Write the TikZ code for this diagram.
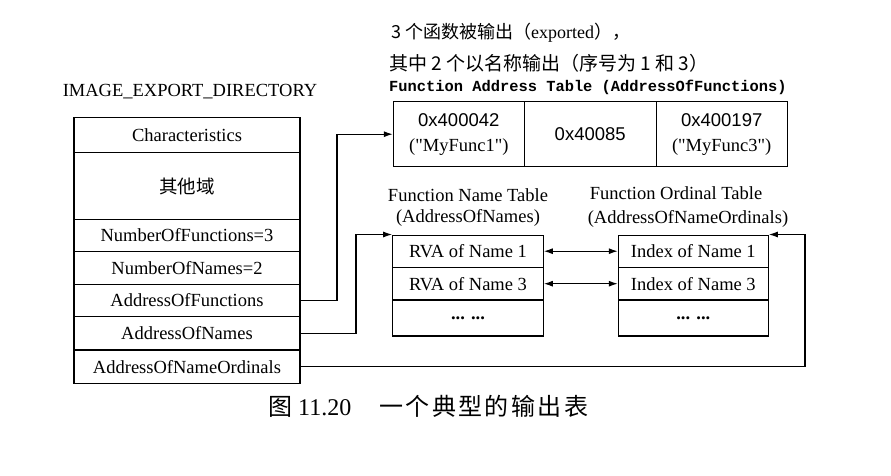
\documentclass[tikz,border=0pt]{standalone}
\usepackage{fontspec}
\setmainfont{Liberation Serif}
\setmonofont{Liberation Mono}
\newfontfamily\cjk{Noto Sans CJK SC}
\newfontfamily\cjksp[LetterSpace=10]{Noto Sans CJK SC}
\newfontfamily\hexfont{Liberation Sans}
\usetikzlibrary{arrows.meta}
\begin{document}
\begin{tikzpicture}[x=1pt,y=-1pt]
\tikzset{
  cell/.style={draw, line width=1.1pt, inner sep=0pt, align=center, font=\fontsize{18.5}{25}\selectfont},
  lbl/.style={inner sep=0pt, align=center, font=\fontsize{18.5}{23}\selectfont},
  conn/.style={line width=1.1pt},
  tipend/.style={-{Latex[length=9pt,width=6pt]}},
  tipboth/.style={{Latex[length=9pt,width=6pt]}-{Latex[length=9pt,width=6pt]}},
}
\useasboundingbox (0,0) rectangle (891,475);
\fill[white] (0,0) rectangle (891,475);

% IMAGE_EXPORT_DIRECTORY
\node[lbl] (title) at (190,92) {IMAGE\_EXPORT\_DIRECTORY};
\node[cell, minimum width=226pt, minimum height=35pt] (r1) at (187,135.2) {Characteristics};
\node[cell, minimum width=226pt, minimum height=66.6pt] (r2) at (187,186) {\cjk 其他域};
\node[cell, minimum width=226pt, minimum height=32.4pt] (r3) at (187,235.5) {NumberOfFunctions=3};
\node[cell, minimum width=226pt, minimum height=32.6pt] (r4) at (187,268) {NumberOfNames=2};
\node[cell, minimum width=226pt, minimum height=32.4pt] (r5) at (187,300.5) {AddressOfFunctions};
\node[cell, minimum width=226pt, minimum height=33.3pt] (r6) at (187,333.3) {AddressOfNames};
\node[cell, minimum width=226pt, minimum height=33.3pt] (r7) at (187,366.7) {AddressOfNameOrdinals};

% top texts
\node[lbl, anchor=west, font=\fontsize{18}{22}\selectfont] (t1) at (391,33) {{\cjk 3 个函数被输出（}exported{\cjk ），}};
\node[lbl, anchor=west, font=\fontsize{19}{22}\selectfont] (t2) at (389,63) {\cjk 其中 2 个以名称输出（序号为 1 和 3）};
\node[lbl, anchor=west, font=\fontsize{15.4}{18}\selectfont\ttfamily\bfseries] (t3) at (389,87) {Function Address Table (AddressOfFunctions)};

% Function address table
\node[cell, minimum width=131pt, minimum height=65pt] (f1) at (458.8,134.2) {{\hexfont 0x400042}\\(\textquotedbl MyFunc1\textquotedbl)};
\node[cell, minimum width=131.7pt, minimum height=65pt] (f2) at (590.2,134.2) {\hexfont 0x40085};
\node[cell, minimum width=131.3pt, minimum height=65pt] (f3) at (721.7,134.2) {{\hexfont 0x400197}\\(\textquotedbl MyFunc3\textquotedbl)};

% Name table
\node[lbl] (nt1) at (468,195) {Function Name Table};
\node[lbl] (nt2) at (468,218) {(AddressOfNames)};
\node[cell, minimum width=150.6pt, minimum height=32.3pt] (n1) at (468,251.2) {RVA of Name 1};
\node[cell, minimum width=150.6pt, minimum height=32.7pt] (n2) at (468,283.7) {RVA of Name 3};
\node[cell, minimum width=150.6pt, minimum height=36pt] (n3) at (468,318) {\textbf{... ...}};

% Ordinal table
\node[lbl] (ot1) at (676,193) {Function Ordinal Table};
\node[lbl] (ot2) at (688,219) {(AddressOfNameOrdinals)};
\node[cell, minimum width=150pt, minimum height=32.3pt] (o1) at (693.3,251.2) {Index of Name 1};
\node[cell, minimum width=150pt, minimum height=32.7pt] (o2) at (693.3,283.7) {Index of Name 3};
\node[cell, minimum width=150pt, minimum height=36pt] (o3) at (693.3,318) {\textbf{... ...}};

% connectors
\coordinate (k1) at (337,0);
\coordinate (k2) at (356,0);
\coordinate (k3) at (805,0);
\draw[conn,tipend] (r5.east) -- (r5.east -| k1) -- (k1 |- f1.west) -- (f1.west);
\draw[conn,tipend] (r6.east) -- (r6.east -| k2) -- (k2 |- n1.north west) -- (n1.north west);
\draw[conn,tipend] (r7.east) -- (r7.east -| k3) -- (k3 |- o1.north east) -- (o1.north east);
\draw[conn,tipboth] (n1.east) -- (o1.west);
\draw[conn,tipboth] (n2.east) -- (o2.west);

% caption
\node[inner sep=0pt, anchor=west, font=\fontsize{24}{26}\selectfont] (cap) at (268,406) {{\cjk 图} 11.20\hspace{28pt}{\cjksp 一个典型的输出表}};
\end{tikzpicture}
\end{document}
